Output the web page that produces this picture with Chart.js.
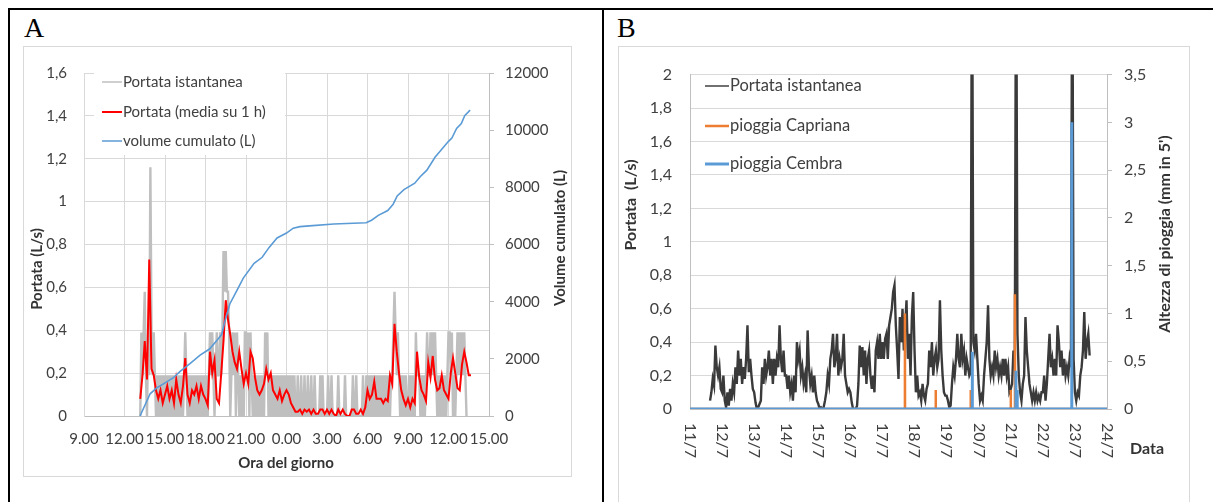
<!DOCTYPE html>
<html lang="it">
<head>
<meta charset="utf-8">
<title>Portata e pioggia</title>
<script src="https://cdn.jsdelivr.net/npm/chart.js@4.4.1/dist/chart.umd.min.js"></script>
<style>
  html, body { margin: 0; padding: 0; background: #fff; }
  body { position: relative; width: 1213px; height: 502px; overflow: hidden; font-family: Lato, sans-serif; }
  .riga { position: absolute; background: #000; }
  .lettera { position: absolute; font-family: "Liberation Serif", serif; font-size: 28px; line-height: 28px; color: #000; }
  .box { position: absolute; border: 1px solid #d9d9d9; background: #fff; }
  .box canvas { position: absolute; left: 0; top: 0; }
</style>
</head>
<body>
  <div class="riga" style="left:8px; top:8px; width:1205px; height:2px"></div>
  <div class="riga" style="left:8px; top:8px; width:2px; height:494px"></div>
  <div class="riga" style="left:602px; top:8px; width:2px; height:494px"></div>
  <div class="lettera" style="left:24px; top:14px">A</div>
  <div class="lettera" style="left:617px; top:14px">B</div>
  <div class="box" style="left:23px; top:46px; width:547px; height:429px"><canvas id="graficoA" width="547" height="429"></canvas></div>
  <div class="box" style="left:618px; top:46px; width:570px; height:470px"><canvas id="graficoB" width="570" height="470"></canvas></div>

<script>
// =============================
// Dati grafico A (ore del giorno, 9.00 = 9, 0.00 del giorno dopo = 24)
// =============================
const oreEtichette = ["9.00", "12.00", "15.00", "18.00", "21.00", "0.00", "3.00", "6.00", "9.00", "12.00", "15.00"];

// portata istantanea (L/s), una lettura ogni 5 minuti dalle 13.10
const istInizio = 13 + 10 / 60;
const istPasso = 5 / 60;
const portataIst = [
  0,.39,.19,.39,.58,.19,0,.39,.19,1.16,           // 13
  .39,.19,.39,.19,0,.19,0,.19,0,.19,0,.19,        // 14
  0,.19,0,.19,0,.19,0,.19,0,.19,0,.19,            // 15
  0,.19,0,.19,0,.19,.39,.19,0,.19,0,.19,          // 16
  0,.19,0,.19,0,.19,0,.19,0,.19,0,.19,            // 17
  0,.19,0,.19,.39,.19,.39,.19,0,.19,.39,.19,      // 18
  .19,.39,.19,.39,.77,.58,.77,.58,.58,.39,0,.19,  // 19
  .39,.19,.39,0,.39,.19,0,.19,0,.19,0,.39,        // 20
  .39,.19,.39,0,.39,.19,0,.19,0,.19,0,.19,        // 21
  0,.19,0,.19,0,.39,.19,.39,0,.19,0,.19,          // 22
  0,.19,0,.19,0,.19,0,.19,0,.19,0,.19,            // 23
  0,.19,0,.19,0,.19,0,.19,0,0,.19,0,              // 0
  0,.19,0,0,.19,0,0,.19,0,0,.19,0,                // 1
  0,.19,0,0,0,0,.19,0,.19,0,0,0,                  // 2
  0,.19,0,0,.19,0,0,0,0,0,.19,0,                  // 3
  0,0,0,0,.19,0,0,0,0,0,0,.19,                    // 4
  0,0,.19,0,0,0,0,0,.19,0,0,.19,                  // 5
  0,.19,0,.19,0,.19,0,.19,0,.19,0,.19,            // 6
  0,.19,0,.19,0,.19,0,.19,0,.19,.19,.39,          // 7
  .58,.39,.19,.39,.19,0,.19,0,.19,0,.19,0,        // 8
  0,.19,0,.19,0,.19,0,.39,.19,.19,.19,0,          // 9
  .19,0,.19,0,.19,.39,.19,.19,.39,.19,.39,.19,    // 10
  .39,.19,0,.19,0,.19,0,.19,0,.19,0,.19,          // 11
  .39,.39,.19,.39,0,.19,0,.19,.39,.19,.39,.19,    // 12
  .39,.19,.39,.19,0                               // 13
];

// portata media mobile su 1 h (L/s), ogni 10 minuti dalle 13.10
const mediaInizio = 13 + 10 / 60;
const mediaPasso = 10 / 60;
const portataMedia = [
  .08,.19,.35,.17,.73,
  .22,.19,.12,.08,.12,.06,
  .1,.14,.08,.12,.06,.17,
  .1,.06,.14,.27,.1,.06,
  .12,.1,.14,.08,.14,.1,
  .08,.05,.3,.2,.26,.08,
  .06,.2,.35,.54,.45,.38,
  .3,.25,.22,.3,.22,.15,
  .2,.15,.3,.27,.18,.12,
  .1,.12,.15,.22,.17,.2,
  .12,.1,.08,.12,.07,.1,
  .12,.1,.06,.04,.02,.02,
  .03,.01,.03,.02,.03,.01,
  .03,.01,.01,.03,.03,.01,
  .03,.01,.03,.01,0,.03,
  .01,.03,.01,0,0,.03,
  .03,.01,.01,.03,.01,.04,
  .12,.08,.1,.16,.08,.08,
  .08,.06,.08,.07,.19,.15,
  .43,.3,.2,.12,.08,.05,
  .08,.04,.08,.06,.3,.18,
  .12,.1,.07,.25,.18,.28,
  .17,.12,.13,.19,.12,.1,
  .08,.2,.27,.2,.13,.12,
  .24,.3,.25,.19,.19
];

// volume cumulato (L)
const volumeOre = [13.15, 13.9, 14.4, 14.85, 15.6, 16.1, 16.85, 17.6, 18.3, 18.9, 19.2, 19.4, 19.8, 20.3, 20.8, 21.6, 22.2, 22.7, 23.3, 24.0, 24.5, 25.0, 25.7, 27.5, 29.9, 30.3, 30.8, 31.5, 31.9, 32.2, 32.7, 33.5, 33.9, 34.4, 35.0, 35.5, 36.0, 36.25, 36.6, 36.95, 37.2, 37.6];
const volumeLitri = [0, 777, 990, 1115, 1330, 1555, 1836, 2130, 2343, 2680, 2850, 3245, 3920, 4370, 4823, 5340, 5553, 5890, 6230, 6400, 6570, 6625, 6650, 6715, 6760, 6850, 7020, 7190, 7410, 7700, 7920, 8145, 8370, 8600, 9050, 9330, 9610, 9725, 10060, 10230, 10510, 10700];

// =============================
// Dati grafico B (giorni di luglio)
// =============================
const giorni = ["11/7", "12/7", "13/7", "14/7", "15/7", "16/7", "17/7", "18/7", "19/7", "20/7", "21/7", "22/7", "23/7", "24/7"];
const primoGiorno = 11;

// portata istantanea (L/s), un valore all'ora dalle 15 dell'11/7
const portataInizio = 11 + 15 / 24;
const portataPasso = 1 / 24;
const portataOraria = [
  .05,.1,.18,.14,.38,.25,.2,.25,.12,
  .1,.2,.05,.01,.1,.02,.12,.05,.15,.1,.25,.15,.35,.2,.3,.15,.25,.18,.3,.5,.22,.3,.2,.12,
  .1,.04,0,.01,.03,.05,.25,.15,.3,.2,.25,.35,.2,.3,.15,.3,.2,.3,.25,.5,.3,.22,.35,.2,
  .2,.12,.2,.1,.15,.05,.2,.1,.4,.3,.35,.2,.25,.15,.2,.1,.47,.25,.15,.2,.1,.2,.1,.05,
  .03,0,.01,0,.01,.05,.1,.2,.15,.3,.35,.45,.25,.3,.45,.2,.3,.25,.3,.45,.2,.15,.1,.12,
  .1,.04,0,0,0,.02,.15,.38,.25,.37,.2,.35,.15,.3,.35,.2,.12,.2,.1,.35,.4,.3,.45,.3,
  .4,.3,.42,.45,.3,.5,.55,.6,.7,.74,.5,.35,.18,.55,.4,.6,.35,.5,.65,.3,.45,.2,.55,.7,
  .35,.1,.2,.08,.1,.05,.15,.08,.05,.12,.15,.35,.25,.4,.2,.3,.35,.25,.3,.65,.35,.2,.1,.08,
  .08,.05,.01,.02,.15,.25,.2,.3,.45,.3,.25,.45,.3,.35,.2,.3,.25,.2,.22,3,.4,.35,.45,.3,
  .15,.05,.08,.05,.2,.3,.4,.62,.3,.2,.25,.2,.35,.25,.3,.2,.25,.2,.3,.2,.3,.2,.25,.1,
  .12,.15,.35,.3,3,.45,.2,.1,.05,.15,.2,.55,.35,.25,.15,.1,.05,.1,.05,.1,.05,.08,.05,.1,
  .1,.2,.05,.15,.3,.45,.25,.3,.2,.3,.2,.5,.4,.25,.35,.2,.3,.2,.25,.2,.3,.25,3,.3,
  .1,.05,.1,.08,.2,.25,.35,.58,.3,.4,.45,.32
];

// pioggia (mm in 5'), letture attorno agli eventi
const capriTempi = [11, 17.6965, 17.7, 17.7035, 18.6565, 18.66, 18.6635, 19.7465, 19.75, 19.7535, 20.9965, 21.0, 21.0035, 21.1265, 21.13, 21.1335, 24];
const capriMm    = [0, 0, 1.0, 0, 0, 0.2, 0, 0, 0.2, 0, 0, 0.2, 0, 0, 1.2, 0, 0];
const cembraTempi = [11, 19.7965, 19.8, 19.8035, 21.1565, 21.16, 21.1635, 21.1965, 21.2, 21.2035, 22.8965, 22.9, 22.9035, 24];
const cembraMm    = [0, 0, 0.6, 0, 0, 0.4, 0, 0, 0.2, 0, 0, 3.0, 0, 0];

// =============================
// Funzioni di supporto
// =============================
function serie(inizio, passo, valori) {
  return valori.map((v, i) => ({ x: inizio + i * passo, y: v }));
}
function coppie(xs, ys) {
  return xs.map((x, i) => ({ x: x, y: ys[i] }));
}
function virgola(v) {
  return (Math.round(v * 10) / 10).toString().replace(".", ",");
}
function testoRuotato(ctx, testo, x, y, angolo, font, colore, allinea) {
  ctx.save();
  ctx.translate(x, y);
  ctx.rotate(angolo);
  ctx.font = font;
  ctx.fillStyle = colore;
  ctx.textAlign = allinea || "center";
  ctx.textBaseline = "middle";
  ctx.fillText(testo, 0, 0);
  ctx.restore();
}
function voceLegenda(ctx, x, y, lung, colore, spessore, testo, font) {
  ctx.save();
  ctx.strokeStyle = colore;
  ctx.lineWidth = spessore;
  ctx.beginPath();
  ctx.moveTo(x, y);
  ctx.lineTo(x + lung, y);
  ctx.stroke();
  ctx.font = font;
  ctx.fillStyle = "#404040";
  ctx.textAlign = "left";
  ctx.textBaseline = "middle";
  ctx.fillText(testo, x + lung + 1, y);
  ctx.restore();
}

const coloreTick = "#404040";
const coloreTitolo = "#333333";
const griglia = "#d9d9d9";
const asse = "#bfbfbf";

// =============================
// Grafico A
// =============================
const extraA = {
  id: "extraA",
  afterDraw(chart) {
    const ctx = chart.ctx;
    ctx.save();
    ctx.fillStyle = "#fff";
    ctx.fillRect(70, 16, 191, 92);
    ctx.restore();
    const f = "15px Lato";
    voceLegenda(ctx, 78, 35, 20, "#bfbfbf", 1.5, "Portata istantanea", f);
    voceLegenda(ctx, 78, 65, 20, "#ff0000", 2, "Portata (media su 1 h)", f);
    voceLegenda(ctx, 78, 94, 20, "#5b9bd5", 1.5, "volume cumulato (L)", f);

    const ft = "bold 15px Lato";
    testoRuotato(ctx, "Portata (L/s)", 13, 222, -Math.PI / 2, ft, coloreTitolo);
    testoRuotato(ctx, "Volume cumulato (L)", 536, 191, -Math.PI / 2, ft, coloreTitolo);
    testoRuotato(ctx, "Ora del giorno", 262, 416, 0, ft, coloreTitolo);
  }
};

new Chart(document.getElementById("graficoA"), {
  type: "line",
  data: {
    datasets: [
      { label: "volume cumulato (L)", data: coppie(volumeOre, volumeLitri), yAxisID: "y1",
        borderColor: "#5b9bd5", borderWidth: 1.6, order: 0 },
      { label: "Portata (media su 1 h)", data: serie(mediaInizio, mediaPasso, portataMedia), yAxisID: "y",
        borderColor: "#ff0000", borderWidth: 2, order: 1 },
      { label: "Portata istantanea", data: serie(istInizio, istPasso, portataIst), yAxisID: "y",
        borderColor: "#bfbfbf", borderWidth: 2.4, order: 2 }
    ]
  },
  options: {
    responsive: false,
    animation: false,
    devicePixelRatio: 1,
    layout: { padding: { top: 14, left: 0, right: 0, bottom: 0 } },
    elements: { point: { radius: 0 }, line: { tension: 0 } },
    plugins: { legend: { display: false }, tooltip: { enabled: false } },
    scales: {
      x: {
        type: "linear", min: 9, max: 39,
        afterFit: s => { s.height = 60; },
        ticks: { stepSize: 3, autoSkip: false, maxRotation: 0, minRotation: 0, padding: 14,
                 font: { family: "Lato", size: 15 }, color: coloreTick,
                 callback: (v, i) => oreEtichette[i] },
        grid: { color: griglia, drawTicks: false },
        border: { color: asse }
      },
      y: {
        min: 0, max: 1.6,
        afterFit: s => { s.width = 60; },
        ticks: { stepSize: 0.2, padding: 17, font: { family: "Lato", size: 15 }, color: coloreTick, callback: virgola },
        grid: { color: griglia, drawTicks: false },
        border: { color: griglia }
      },
      y1: {
        position: "right", min: 0, max: 12000,
        afterFit: s => { s.width = 82; },
        ticks: { stepSize: 2000, padding: 11, font: { family: "Lato", size: 15 }, color: coloreTick,
                 callback: v => String(v) },
        grid: { drawOnChartArea: false, color: asse, tickLength: 5 },
        border: { color: asse }
      }
    }
  },
  plugins: [extraA]
});

// =============================
// Grafico B
// =============================
const extraB = {
  id: "extraB",
  afterDraw(chart) {
    const ctx = chart.ctx;
    const f = "16.5px Lato";
    voceLegenda(ctx, 86, 39, 24, "#404040", 1.5, "Portata istantanea", f);
    voceLegenda(ctx, 86, 79, 24, "#ed7d31", 2.5, "pioggia Capriana", f);
    voceLegenda(ctx, 86, 117, 24, "#5b9bd5", 3, "pioggia Cembra", f);

    // date sotto l'asse, scritte dall'alto in basso
    const sx = chart.scales.x;
    giorni.forEach((g, i) => {
      const px = sx.getPixelForValue(primoGiorno + i);
      testoRuotato(ctx, g, px, 376, Math.PI / 2, "16px Lato", coloreTick, "left");
    });

    const ft = "bold 16px Lato";
    testoRuotato(ctx, "Portata  (L/s)", 12, 158, -Math.PI / 2, ft, coloreTitolo);
    testoRuotato(ctx, "Altezza di pioggia (mm in 5')", 546, 187, -Math.PI / 2, ft, coloreTitolo);
    testoRuotato(ctx, "Data", 511, 402, 0, ft, coloreTitolo, "left");
  }
};

new Chart(document.getElementById("graficoB"), {
  type: "line",
  data: {
    datasets: [
      { label: "pioggia Cembra", data: coppie(cembraTempi, cembraMm), yAxisID: "y1",
        borderColor: "#5b9bd5", borderWidth: 3, order: 0 },
      { label: "pioggia Capriana", data: coppie(capriTempi, capriMm), yAxisID: "y1",
        borderColor: "#ed7d31", borderWidth: 2.5, order: 1 },
      { label: "Portata istantanea", data: serie(portataInizio, portataPasso, portataOraria), yAxisID: "y",
        borderColor: "#3a3a3a", borderWidth: 2.4, order: 2 }
    ]
  },
  options: {
    responsive: false,
    animation: false,
    devicePixelRatio: 1,
    layout: { padding: { top: 11, left: 0, right: 0, bottom: 0 } },
    elements: { point: { radius: 0 }, line: { tension: 0 } },
    plugins: { legend: { display: false }, tooltip: { enabled: false } },
    scales: {
      x: {
        type: "linear", min: 11, max: 24,
        afterFit: s => { s.height = 108; },
        ticks: { display: false },
        grid: { display: false },
        border: { color: asse }
      },
      y: {
        min: 0, max: 2,
        afterFit: s => { s.width = 71; },
        ticks: { stepSize: 0.2, padding: 18, font: { family: "Lato", size: 16 }, color: coloreTick, callback: virgola },
        grid: { color: griglia, drawTicks: false },
        border: { color: asse }
      },
      y1: {
        position: "right", min: 0, max: 3.5,
        afterFit: s => { s.width = 82; },
        ticks: { stepSize: 0.5, padding: 12, font: { family: "Lato", size: 16 }, color: coloreTick, callback: virgola },
        grid: { drawOnChartArea: false, color: asse, tickLength: 5 },
        border: { color: asse }
      }
    }
  },
  plugins: [extraB]
});
</script>
</body>
</html>
